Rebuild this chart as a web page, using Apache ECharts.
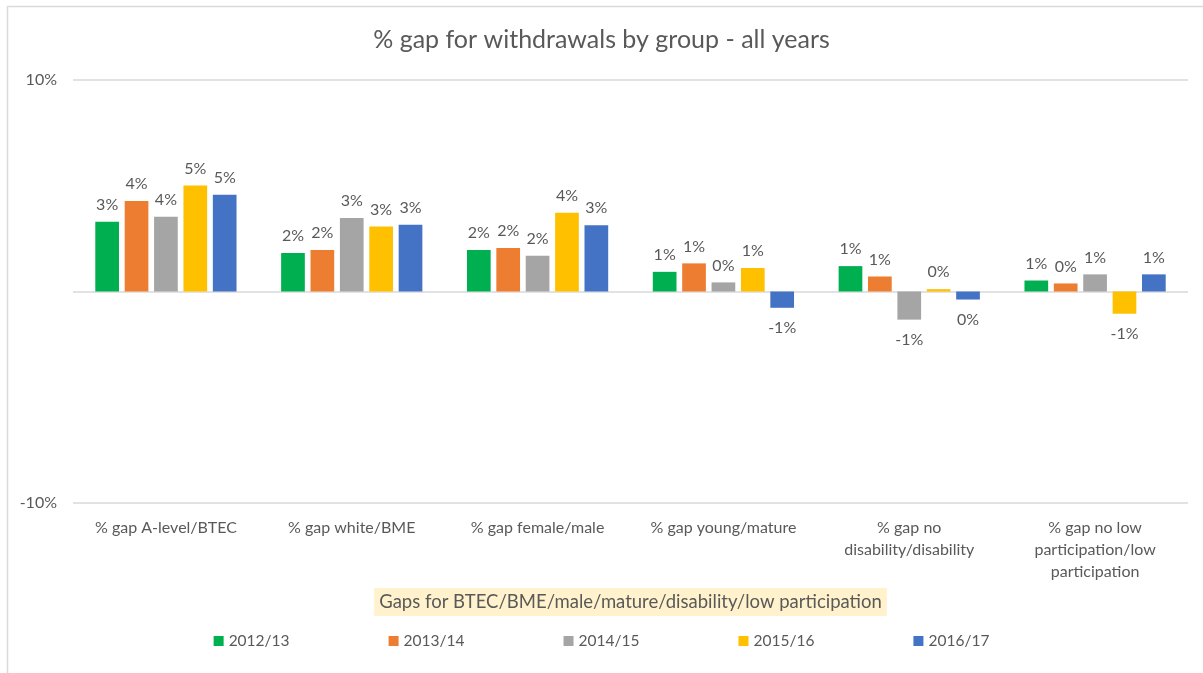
<!DOCTYPE html>
<html>
<head>
<meta charset="utf-8">
<script src="https://cdn.jsdelivr.net/npm/echarts@6/dist/echarts.min.js"></script>
<style>
html,body{margin:0;padding:0;background:#fff;}
#chart{width:1203px;height:673px;}
</style>
</head>
<body>
<div id="chart"></div>
<script>
const categories = [
  '% gap A-level/BTEC',
  '% gap white/BME',
  '% gap female/male',
  '% gap young/mature',
  '% gap no\ndisability/disability',
  '% gap no low\nparticipation/low\nparticipation'
];
const seriesNames = ['2012/13', '2013/14', '2014/15', '2015/16', '2016/17'];
const s2012 = [3.30, 1.82, 1.96, 0.93, 1.20, 0.52];
const s2013 = [4.28, 1.96, 2.06, 1.33, 0.71, 0.38];
const s2014 = [3.53, 3.48, 1.69, 0.43, -1.33, 0.81];
const s2015 = [5.01, 3.07, 3.72, 1.11, 0.11, -1.05];
const s2016 = [4.57, 3.16, 3.13, -0.77, -0.38, 0.81];
const colors = ['#00B050', '#ED7D31', '#A5A5A5', '#FFC000', '#4472C4'];
const yTicks = [-10, 0, 10];
const yLabelled = ['-10%', '', '10%'];

const FONT = 'Lato, "Open Sans", sans-serif';
const TXT = '#595959';
const allSeries = [s2012, s2013, s2014, s2015, s2016];

const chart = echarts.init(document.getElementById('chart'));
chart.setOption({
  backgroundColor: '#fff',
  animation: false,
  textStyle: { fontFamily: FONT },
  title: {
    text: '% gap for withdrawals by group - all years',
    left: 'center',
    top: 22,
    textStyle: { fontFamily: FONT, fontSize: 25, fontWeight: 'normal', color: TXT }
  },
  graphic: [{
    type: 'rect',
    shape: { x: 7.5, y: 6.5, width: 1250, height: 700 },
    style: { fill: 'none', stroke: '#D9D9D9', lineWidth: 1.5 },
    silent: true
  }],
  legend: {
    bottom: 19,
    left: 'center',
    itemWidth: 10,
    itemHeight: 10,
    itemGap: 99,
    icon: 'rect',
    textStyle: { fontFamily: FONT, fontSize: 15.5, color: TXT },
    data: seriesNames
  },
  grid: { left: 73, right: 15, top: 80, bottom: 170 },
  xAxis: {
    type: 'category',
    data: categories,
    axisLine: { show: false, onZero: false },
    axisTick: { show: false },
    axisLabel: { fontFamily: FONT, fontSize: 16, color: TXT, lineHeight: 22, margin: 14, interval: 0 },
    name: 'Gaps for BTEC/BME/male/mature/disability/low participation',
    nameLocation: 'middle',
    nameGap: 76,
    nameTextStyle: {
      fontFamily: FONT, fontSize: 18.5, color: TXT,
      backgroundColor: '#FFF2CC', padding: [5, 5, 4, 5]
    }
  },
  yAxis: {
    type: 'value',
    min: yTicks[0],
    max: yTicks[yTicks.length - 1],
    interval: 10,
    axisLine: { show: false },
    axisTick: { show: false },
    axisLabel: {
      fontFamily: FONT, fontSize: 16, color: TXT, margin: 16,
      formatter: v => yLabelled[yTicks.indexOf(v)] || ''
    },
    splitLine: { lineStyle: { color: '#D9D9D9', width: 1.5 } }
  },
  series: allSeries.map((vals, i) => ({
    name: seriesNames[i],
    type: 'bar',
    barGap: '24%',
    barCategoryGap: '24%',
    itemStyle: { color: colors[i] },
    label: {
      show: true,
      fontFamily: FONT,
      fontSize: 16,
      color: TXT,
      formatter: p => { const r = Math.round(p.value); return (r === 0 ? 0 : r) + '%'; }
    },
    data: vals.map(v => ({
      value: v,
      label: v < 0 ? { position: 'bottom', distance: 12 } : { position: 'top', distance: 9 }
    }))
  }))
});
</script>
</body>
</html>
